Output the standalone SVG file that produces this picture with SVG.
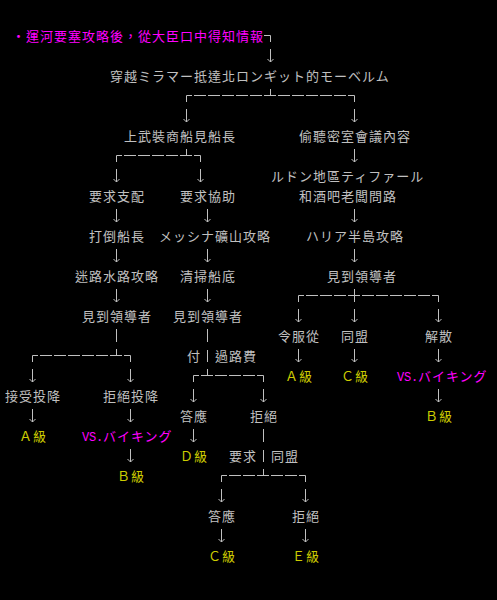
<svg xmlns="http://www.w3.org/2000/svg" xmlns:xlink="http://www.w3.org/1999/xlink" width="497" height="600" viewBox="0 0 497 600">
<style>
text{font-family:"Noto Sans CJK TC","Noto Sans CJK JP",sans-serif;font-size:13px;letter-spacing:1px;}
.g{fill:#c0c0c0;}
.m{fill:#ff00ff;}
.y{fill:#cccc00;}
.lat{font-family:"Liberation Mono",monospace;font-size:12px;letter-spacing:0;}
.ln{fill:none;stroke:#c0c0c0;stroke-width:1;}
.dash{fill:none;stroke:#c0c0c0;stroke-width:1;stroke-dasharray:12 2;stroke-dashoffset:6.5;}
</style>
<defs>
<path id="dn" class="ln" d="M0,-1V12M-3,9L0,12L3,9"/>
</defs>
<rect x="0" y="0" width="497" height="600" fill="#000"/>

<g id="connectors">
<path class="ln" d="M264,35.5H270.5V42"/>
<use xlink:href="#dn" x="270.5" y="50"/>
<path class="ln" d="M270.5,89V95.5M186.5,95.5V102M354.5,95.5V102"/>
<path class="dash" d="M186.5,95.5H354.5"/>
<use xlink:href="#dn" x="186.5" y="110"/>
<use xlink:href="#dn" x="354.5" y="110"/>
<path class="ln" d="M186.5,149V155.5M116.5,155.5V162M200.5,155.5V162"/>
<path class="dash" d="M116.5,155.5H200.5"/>
<use xlink:href="#dn" x="354.5" y="150"/>
<use xlink:href="#dn" x="116.5" y="170"/>
<use xlink:href="#dn" x="200.5" y="170"/>
<use xlink:href="#dn" x="116.5" y="210"/>
<use xlink:href="#dn" x="207.5" y="210"/>
<use xlink:href="#dn" x="354.5" y="210"/>
<use xlink:href="#dn" x="116.5" y="250"/>
<use xlink:href="#dn" x="207.5" y="250"/>
<use xlink:href="#dn" x="354.5" y="250"/>
<use xlink:href="#dn" x="116.5" y="290"/>
<use xlink:href="#dn" x="207.5" y="290"/>
<path class="ln" d="M354.5,289V302M298.5,295.5V302M438.5,295.5V302"/>
<path class="dash" d="M298.5,295.5H438.5"/>
<use xlink:href="#dn" x="298.5" y="310"/>
<use xlink:href="#dn" x="354.5" y="310"/>
<use xlink:href="#dn" x="438.5" y="310"/>
<path class="ln" d="M116.5,329V342M207.5,329V342"/>
<path class="ln" d="M116.5,349V355.5M32.5,355.5V362M130.5,355.5V362M207.5,350V362"/>
<path class="dash" d="M32.5,355.5H130.5"/>
<use xlink:href="#dn" x="298.5" y="350"/>
<use xlink:href="#dn" x="354.5" y="350"/>
<use xlink:href="#dn" x="438.5" y="350"/>
<use xlink:href="#dn" x="32.5" y="370"/>
<use xlink:href="#dn" x="130.5" y="370"/>
<path class="ln" d="M207.5,369V375.5M193.5,375.5V382M263.5,375.5V382"/>
<path class="dash" d="M193.5,375.5H263.5"/>
<use xlink:href="#dn" x="193.5" y="390"/>
<use xlink:href="#dn" x="263.5" y="390"/>
<use xlink:href="#dn" x="438.5" y="390"/>
<use xlink:href="#dn" x="32.5" y="410"/>
<use xlink:href="#dn" x="130.5" y="410"/>
<use xlink:href="#dn" x="193.5" y="430"/>
<path class="ln" d="M263.5,429V442M263.5,450V462"/>
<use xlink:href="#dn" x="130.5" y="450"/>
<path class="ln" d="M263.5,469V475.5M221.5,475.5V482M305.5,475.5V482"/>
<path class="dash" d="M221.5,475.5H305.5"/>
<use xlink:href="#dn" x="221.5" y="490"/>
<use xlink:href="#dn" x="305.5" y="490"/>
<use xlink:href="#dn" x="221.5" y="530"/>
<use xlink:href="#dn" x="305.5" y="530"/>
</g>

<g id="n-start"><text class="m" x="12" y="41">・運河要塞攻略後，從大臣口中得知情報</text></g>
<g id="n-miramar"><text class="g" x="110" y="81">穿越ミラマー抵達北ロンギット的モーベルム</text></g>
<g id="n-boardship"><text class="g" x="124" y="141">上武裝商船見船長</text></g>
<g id="n-eavesdrop"><text class="g" x="299" y="141">偷聽密室會議內容</text></g>
<g id="n-ludon"><text class="g" x="271" y="181">ルドン地區ティファール</text><text class="g" x="299" y="201">和酒吧老闆問路</text></g>
<g id="n-demandrule"><text class="g" x="89" y="201">要求支配</text></g>
<g id="n-demandhelp"><text class="g" x="180" y="201">要求協助</text></g>
<g id="n-defeatcaptain"><text class="g" x="89" y="241">打倒船長</text></g>
<g id="n-messina"><text class="g" x="159" y="241">メッシナ礦山攻略</text></g>
<g id="n-haria"><text class="g" x="306" y="241">ハリア半島攻略</text></g>
<g id="n-maze"><text class="g" x="75" y="281">迷路水路攻略</text></g>
<g id="n-cleanhull"><text class="g" x="180" y="281">清掃船底</text></g>
<g id="n-leader-r"><text class="g" x="327" y="281">見到領導者</text></g>
<g id="n-leader-l1"><text class="g" x="82" y="321">見到領導者</text></g>
<g id="n-leader-l2"><text class="g" x="173" y="321">見到領導者</text></g>
<g id="n-obey"><text class="g" x="278" y="341">令服從</text></g>
<g id="n-ally-r"><text class="g" x="341" y="341">同盟</text></g>
<g id="n-disband"><text class="g" x="425" y="341">解散</text></g>
<g id="n-toll"><text class="g" x="187" y="361">付</text><text class="g" x="215" y="361">過路費</text></g>
<g id="n-a-r"><text class="y" x="285" y="381">Ａ級</text></g>
<g id="n-c-r"><text class="y" x="341" y="381">Ｃ級</text></g>
<g id="n-vs-r"><text class="m" y="381"><tspan class="lat" x="397 404 411">VS.</tspan><tspan x="418">バイキング</tspan></text></g>
<g id="n-acceptsurr"><text class="g" x="5" y="401">接受投降</text></g>
<g id="n-refusesurr"><text class="g" x="103" y="401">拒絕投降</text></g>
<g id="n-accept1"><text class="g" x="180" y="421">答應</text></g>
<g id="n-refuse1"><text class="g" x="250" y="421">拒絕</text></g>
<g id="n-b-r"><text class="y" x="425" y="421">Ｂ級</text></g>
<g id="n-a-l"><text class="y" x="19" y="441">Ａ級</text></g>
<g id="n-vs-l"><text class="m" y="441"><tspan class="lat" x="82 89 96">VS.</tspan><tspan x="103">バイキング</tspan></text></g>
<g id="n-d"><text class="y" x="180" y="461">Ｄ級</text></g>
<g id="n-demandally"><text class="g" x="229" y="461">要求</text><text class="g" x="271" y="461">同盟</text></g>
<g id="n-b-l"><text class="y" x="117" y="481">Ｂ級</text></g>
<g id="n-accept2"><text class="g" x="208" y="521">答應</text></g>
<g id="n-refuse2"><text class="g" x="292" y="521">拒絕</text></g>
<g id="n-c-b"><text class="y" x="208" y="561">Ｃ級</text></g>
<g id="n-e"><text class="y" x="292" y="561">Ｅ級</text></g>
</svg>
